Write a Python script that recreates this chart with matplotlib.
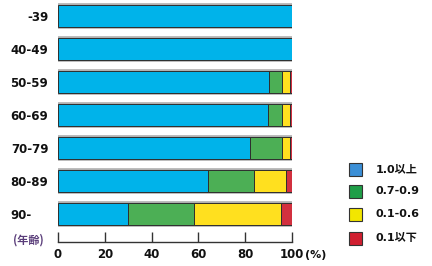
import matplotlib
matplotlib.use("Agg")
import matplotlib.pyplot as plt
from matplotlib.patches import Rectangle
from matplotlib.transforms import ScaledTranslation
import numpy as np

plt.rcParams['font.family'] = ['DejaVu Sans', 'Noto Sans CJK JP']

categories = ["-39", "40-49", "50-59", "60-69", "70-79", "80-89", "90-"]
series_names = ["1.0以上", "0.7-0.9", "0.1-0.6", "0.1以下"]
v_high = [100, 100, 90.2, 89.7, 82.0, 64.1, 30.0]
v_mid = [0, 0, 5.5, 6.0, 13.7, 19.5, 28.1]
v_low = [0, 0, 3.4, 3.3, 3.4, 13.8, 37.2]
v_min = [0, 0, 0.9, 1.0, 0.9, 2.6, 4.7]
xticks = [0, 20, 40, 60, 80, 100]
colors = ["#00b3ea", "#4caf55", "#ffe01f", "#d2303f"]
legend_colors = ["#3b8fd6", "#1f9e48", "#f2e600", "#d01f30"]

W, H = 432, 266
fig = plt.figure(figsize=(W/100, H/100), dpi=100)
ax = fig.add_axes([58/W, 1-242/H, (292-58)/W, 242/H])

y = np.arange(len(categories))
series = [v_high, v_mid, v_low, v_min]
ax.barh(y, [100]*len(y), height=0.74, color="#b8b8b8", edgecolor="#b0b0b0", lw=1.2, zorder=1)
left = np.zeros(len(y))
for vals, c in zip(series, colors):
    vals = np.array(vals)
    ax.barh(y, vals, left=left, height=0.68, color=c, edgecolor="#2e2e2e", lw=0.7, zorder=2)
    left += vals

ax.set_xlim(0, 100)
ax.set_ylim(6.85, -0.485)
ax.set_yticks(y)
ax.set_yticklabels(categories, fontsize=8.5, color="#111111", fontweight="bold")
ax.tick_params(axis='y', length=0, pad=7)
# "90-" label is left-aligned with the other labels in the reference
last = ax.get_yticklabels()[-1]
last.set_transform(last.get_transform() + ScaledTranslation(-17/100, 0, fig.dpi_scale_trans))

ax.set_xticks(xticks)
ax.set_xticklabels([str(t) for t in xticks], fontsize=8.5, color="#111111", fontweight="bold")
ax.tick_params(axis='x', direction='in', length=7, width=1, color="#333333", pad=4)
for s in ["top", "right", "left"]:
    ax.spines[s].set_visible(False)
ax.spines["bottom"].set_color("#333333")
ax.spines["bottom"].set_linewidth(1)
ax.set_facecolor("none")

fig.text(305/W, 1-255/H, "(%)", fontsize=8, color="#111111", va="center", ha="left", fontweight="bold")
fig.text(28/W, 1-240/H, "(年齢)", fontsize=8, color="#5a3d7a", va="center", ha="center",
         fontweight="bold", family=['Noto Sans CJK JP', 'DejaVu Sans'])

ys = [169, 191, 214, 238]
for yy, c, name in zip(ys, legend_colors, series_names):
    fig.patches.append(Rectangle((349/W, 1-(yy+6.5)/H), 13/W, 13/H, transform=fig.transFigure,
                                 facecolor=c, edgecolor="#333333", lw=0.8))
    fig.text(376/W, 1-yy/H, name, fontsize=8, color="#111111", va="center", ha="left",
             fontweight="bold")

fig.savefig("out.png", dpi=100)
